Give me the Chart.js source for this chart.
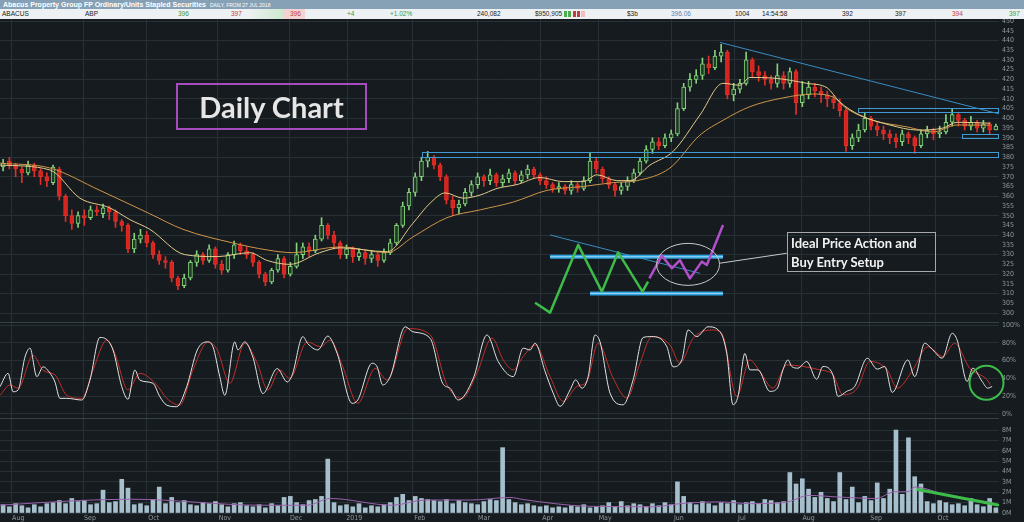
<!DOCTYPE html>
<html>
<head>
<meta charset="utf-8">
<title>ABP Daily Chart</title>
<script src="https://cdn.jsdelivr.net/npm/chart.js@4.4.1/dist/chart.umd.min.js"></script>
<style>
  html, body { margin: 0; padding: 0; }
  body { width: 1024px; height: 522px; background: #151b1e; position: relative; overflow: hidden; font-family: "Liberation Sans", Arial, sans-serif; }
  canvas { position: absolute; left: 0; }
  #priceChart { top: 19px; }
  #stochChart { top: 322px; }
  #volumeChart { top: 418px; }
  .sep { position: absolute; left: 0; width: 999px; height: 1px; background: #364047; }
  #title { position: absolute; left: 0; top: 0; width: 1024px; height: 9px; background: #86a1b5; color: #fff; font-size: 7px; font-weight: bold; line-height: 9px; white-space: nowrap; padding-left: 3px; box-sizing: border-box; }
  #title small { font-size: 5px; font-weight: normal; margin-left: 4px; }
  #quote { position: absolute; left: 0; top: 9px; width: 1024px; height: 10px; background: #eef1f3; font-size: 6.5px; line-height: 10px; color: #222; overflow: hidden; }
  #quote span { position: absolute; top: 0; white-space: nowrap; }
  #quote .up { color: #3a9a3a; }
  #quote .dn { color: #c43c3c; }
  #quote .bl { color: #5a83b8; }
  #dailyBox { position: absolute; left: 176px; top: 83px; width: 191px; height: 47px; box-sizing: border-box; border: 2px solid #a64cbf; color: #e6e6e6; font: bold 29px Lato, "Open Sans", sans-serif; text-align: center; line-height: 43px; }
  #setupBox { position: absolute; left: 787px; top: 232px; width: 149px; height: 40px; box-sizing: border-box; border: 1px solid #a8a8a8; color: #f2f2f2; font: bold 13px Lato, "Open Sans", sans-serif; line-height: 19px; padding: 1px 0 0 3px; white-space: nowrap; }
</style>
</head>
<body>

<canvas id="priceChart" width="1024" height="303"></canvas>
<canvas id="stochChart" width="1024" height="96"></canvas>
<canvas id="volumeChart" width="1024" height="104"></canvas>
<div class="sep" style="top:322px"></div>
<div class="sep" style="top:418px"></div>

<div id="title">Abacus Property Group FP Ordinary/Units Stapled Securities<small>DAILY, FROM 27 JUL 2018</small></div>
<div id="quote">
  <span style="left:2px">ABACUS</span>
  <span style="left:85px">ABP</span>
  <span class="up" style="left:178px">396</span>
  <span class="dn" style="left:231px">397</span>
  <span style="left:247px;width:36px;height:10px;background:linear-gradient(90deg,#eef1f3,#cfe9cf)"></span>
  <span style="left:283px;width:22px;height:10px;background:#f3d3d3"></span>
  <span class="dn" style="left:290px">396</span>
  <span class="up" style="left:347px">+4</span>
  <span class="up" style="left:390px">+1.02%</span>
  <span style="left:477px">240,082</span>
  <span style="left:535px">$950,905</span>
  <span style="left:564px;top:2px;width:3px;height:6px;background:#4cae4c"></span>
  <span style="left:568px;top:2px;width:3px;height:6px;background:#4cae4c"></span>
  <span style="left:573px;top:2px;width:3px;height:6px;background:#c43c3c"></span>
  <span style="left:577px;top:2px;width:3px;height:6px;background:#c43c3c"></span>
  <span style="left:581px;top:2px;width:4px;height:6px;background:#f0c0c0"></span>
  <span style="left:627px">$3b</span>
  <span class="bl" style="left:671px">396.06</span>
  <span style="left:735px">1004</span>
  <span style="left:762px">14:54:58</span>
  <span style="left:842px">392</span>
  <span style="left:895px">397</span>
  <span class="dn" style="left:952px">394</span>
  <span class="up" style="left:1009px">397</span>
</div>

<div id="dailyBox">Daily Chart</div>
<div id="setupBox">Ideal Price Action and<br>Buy Entry Setup</div>

<script>
// x axis unit = one bar (two trading days), bar 0 = late Jul 2018
const monthTicks = [1.3, 12.8, 23.0, 34.4, 45.8, 55.1, 65.6, 75.9, 86.1, 95.3, 107.1, 117.2, 127.9, 138.7, 149.4];
const monthNames = ["Aug", "Sep", "Oct", "Nov", "Dec", "2019", "Feb", "Mar", "Apr", "May", "Jun", "Jul", "Aug", "Sep", "Oct"];

const priceTicks = [300, 305, 310, 315, 320, 325, 330, 335, 340, 345, 350, 355, 360, 365, 370, 375,
  380, 385, 390, 395, 400, 405, 410, 415, 420, 425, 430, 435, 440, 445, 450];
const stochTicks = [0, 20, 40, 60, 80, 100];
const volumeTicks = [0, 1, 2, 3, 4, 5, 6, 7, 8];

const opens = [
  375, 378, 376, 374, 372, 376, 373, 370, 367, 374,
  360, 350, 346, 350, 349, 353, 351, 354, 352, 347,
  345, 333, 338, 340, 336, 330, 327, 326, 318, 314,
  318, 326, 330, 327, 333, 325, 322, 330, 335, 332,
  330, 326, 320, 316, 322, 328, 320, 324, 330, 334,
  332, 338, 345, 340, 336, 330, 333, 329, 331, 328,
  330, 327, 331, 336, 345, 355, 362, 370, 378, 380,
  376, 370, 358, 354, 356, 362, 366, 370, 368, 371,
  367, 369, 372, 368, 371, 374, 371, 368, 366, 364,
  365, 363, 366, 364, 368, 378, 374, 369, 366, 363,
  365, 368, 372, 378, 384, 388, 386, 390, 392, 405,
  416, 420, 422, 428, 426, 432, 434, 412, 415, 418,
  430, 424, 422, 420, 418, 422, 418, 424, 408, 412,
  416, 414, 412, 410, 408, 404, 386, 390, 394, 400,
  396, 394, 392, 390, 388, 392, 390, 386, 392, 394,
  392, 393, 398, 402, 399, 396, 398, 395, 397, 394
];
const closes = [
  377, 376, 374, 372, 376, 373, 370, 368, 375, 360,
  350, 346, 350, 349, 353, 352, 354, 352, 347, 345,
  333, 338, 340, 336, 330, 327, 326, 318, 314, 318,
  326, 330, 327, 333, 325, 322, 330, 335, 332, 330,
  326, 320, 316, 322, 328, 320, 324, 330, 334, 332,
  338, 345, 340, 336, 330, 333, 329, 331, 328, 330,
  327, 331, 336, 345, 355, 362, 370, 378, 380, 376,
  370, 358, 354, 356, 362, 366, 370, 368, 371, 367,
  369, 372, 368, 371, 374, 371, 368, 366, 364, 365,
  363, 366, 364, 368, 378, 374, 369, 366, 363, 365,
  368, 372, 378, 384, 388, 386, 390, 392, 405, 416,
  420, 422, 428, 426, 432, 434, 412, 415, 418, 430,
  424, 422, 420, 418, 422, 418, 424, 408, 412, 416,
  414, 412, 410, 408, 404, 386, 390, 394, 400, 396,
  394, 392, 390, 388, 392, 390, 386, 392, 394, 392,
  393, 398, 402, 399, 396, 398, 395, 397, 394, 396
];
const highs = [
  379, 380, 377, 375, 378, 377, 374, 372, 376, 375,
  361, 353, 352, 353, 355, 355, 356, 355, 353, 348,
  346, 341, 343, 342, 337, 332, 329, 327, 319, 320,
  327, 332, 331, 335, 334, 327, 331, 337, 336, 334,
  331, 327, 321, 323, 330, 329, 326, 336, 336, 336,
  340, 349, 346, 342, 337, 335, 334, 333, 332, 332,
  331, 333, 338, 346, 357, 364, 372, 380, 383, 381,
  377, 371, 360, 358, 364, 368, 372, 371, 374, 372,
  371, 374, 373, 373, 376, 375, 372, 370, 367, 367,
  366, 368, 367, 370, 382, 380, 375, 370, 367, 367,
  370, 374, 380, 386, 390, 390, 392, 394, 408, 418,
  423, 425, 431, 432, 435, 438, 435, 418, 420, 434,
  431, 427, 424, 422, 428, 424, 426, 425, 419, 419,
  418, 416, 414, 412, 410, 405, 392, 397, 403, 401,
  398, 396, 394, 392, 394, 393, 391, 394, 396, 395,
  396, 402, 405, 403, 400, 401, 399, 399, 398, 397
];
const lows = [
  373, 374, 370, 367, 371, 370, 366, 365, 366, 358,
  347, 343, 344, 345, 348, 350, 349, 348, 344, 342,
  331, 331, 336, 334, 328, 325, 323, 316, 312, 313,
  317, 324, 325, 326, 323, 320, 321, 328, 330, 328,
  324, 318, 314, 315, 321, 318, 319, 323, 328, 329,
  331, 337, 338, 333, 328, 328, 326, 327, 325, 326,
  324, 326, 330, 335, 344, 353, 360, 368, 375, 374,
  368, 356, 350, 351, 355, 360, 364, 365, 366, 365,
  365, 367, 366, 367, 369, 369, 366, 364, 362, 362,
  361, 361, 362, 363, 367, 372, 367, 364, 360, 361,
  363, 367, 371, 377, 382, 384, 385, 388, 391, 404,
  414, 418, 420, 423, 425, 429, 410, 409, 413, 417,
  421, 419, 417, 415, 416, 415, 416, 402, 406, 410,
  411, 408, 406, 405, 401, 383, 384, 388, 393, 394,
  391, 389, 387, 385, 386, 387, 382, 385, 390, 389,
  390, 392, 396, 396, 394, 394, 393, 393, 392, 394
];

// moving averages
const fastMaX = [-0.5, 7.5, 12.3, 17.1, 20.3, 23.5, 29.1, 34.3, 39.5, 42.3, 45.9, 50.7, 54.0, 61.5, 65.6, 68.4,
  70.8, 73.7, 76.4, 79.1, 82.3, 86.0, 89.7, 92.9, 95.1, 98.3, 100.4, 103.6, 107.3, 111.6, 115.3, 118.0,
  119.6, 123.3, 128.7, 132.0, 134.0, 137.2, 142.0, 146.4, 150.5, 152.8, 158.1];
const fastMa = [376, 373.5, 359, 354, 348, 343, 330, 329, 331, 327, 325, 331, 333.5, 331.5, 346, 356.5,
  361.7, 359, 360.6, 364, 366, 369.6, 367.5, 367.5, 371, 368, 368, 376, 383, 401.7, 418, 417,
  421, 420.7, 418, 415.6, 408.4, 401.7, 396.6, 394, 395, 398, 397.5];
const slowMaX = [-0.5, 7.5, 15.5, 23.5, 28.8, 36.8, 42.3, 46.4, 54.0, 61.5, 65.6, 71.1, 76.4, 81.7, 87.1, 92.9,
  97.7, 101.5, 106.8, 111.6, 115.3, 119.6, 124.9, 129.7, 132.9, 135.1, 139.3, 144.8, 148.9, 152.8, 158.1];
const slowMa = [377, 374.5, 363, 351, 343, 336, 332.4, 331, 334, 331, 339, 349, 353, 357, 363, 365,
  367, 368, 374.5, 391.4, 399, 406, 410.5, 412.5, 411, 405, 399, 395.6, 393, 396.6, 396.5];

// slow stochastic %K (white) and %D (red)
const stochKX = [-0.5, 0.8, 1.6, 2.4, 3.5, 4.3, 5.4, 6.4, 7.5, 8.3, 9.1, 10.2, 12.6, 13.9, 15.5, 16.3,
  17.6, 19.0, 20.0, 21.1, 21.9, 24.0, 25.1, 26.2, 27.8, 29.4, 31.1, 32.7, 33.6, 34.7, 35.5, 37.1,
  37.6, 38.7, 40.0, 41.6, 43.9, 45.5, 46.3, 48.0, 48.8, 50.4, 52.0, 53.5, 55.9, 56.8, 59.1, 59.9,
  60.8, 62.0, 64.4, 65.6, 68.4, 70.4, 71.6, 72.9, 75.3, 77.5, 79.3, 81.7, 83.3, 84.4, 85.2, 86.8,
  88.1, 89.2, 90.8, 91.7, 92.7, 93.7, 94.8, 95.6, 97.2, 99.3, 100.9, 102.5, 103.9, 106.3, 107.3, 108.7,
  109.7, 111.1, 112.9, 114.8, 115.9, 116.9, 117.7, 118.8, 119.6, 120.9, 122.8, 124.0, 124.9, 125.7, 126.3, 127.3,
  128.7, 130.3, 131.3, 132.9, 133.7, 135.1, 136.4, 138.4, 140.0, 141.2, 142.4, 144.9, 146.0, 147.6, 148.9, 150.4,
  152.0, 152.8, 154.4, 155.3, 156.8, 157.7, 158.4];
const stochK = [30.7, 45.7, 25, 27, 64, 74, 42, 53, 46, 36, 17.6, 17.6, 15.7, 38, 86, 85,
  72, 30.7, 16.5, 49.4, 38, 34.5, 19.5, 10, 8.2, 30.7, 72, 81, 75.7, 42, 21, 81,
  72, 81, 64, 23, 51, 36, 44, 87, 79, 72, 87.6, 68, 12, 15.7, 57, 53,
  32.6, 42, 98, 92.5, 85, 34.5, 28.8, 15.7, 40, 88.8, 58.8, 42, 74, 72, 79.5, 47.8,
  23.5, 8.6, 27, 38.4, 29, 42, 88.8, 81, 23.5, 10.4, 38.4, 86, 87, 75.7, 53, 60.8,
  94.4, 87, 98, 92.5, 68, 10.4, 19.8, 68, 49.6, 49.6, 25.4, 29, 49.6, 60.8, 53.4, 51.5,
  59, 39, 53.4, 44, 19.8, 25.4, 31, 62.7, 50.4, 53.4, 24.3, 60.8, 42, 79.5, 72, 62.7,
  90.7, 83, 36.6, 51.5, 36.6, 29, 31];
const stochDX = [-0.5, 1.1, 2.4, 4.8, 6.4, 8.3, 10.2, 12.6, 14.4, 16.6, 17.9, 20.0, 21.9, 24.6, 26.2, 28.3,
  30.4, 32.8, 34.3, 36.3, 38.7, 40.7, 42.4, 44.3, 45.9, 48.7, 50.8, 52.4, 54.4, 56.8, 59.6, 61.5,
  64.8, 68.4, 71.1, 73.5, 75.9, 78.3, 80.1, 81.7, 83.3, 85.2, 87.6, 89.7, 91.9, 93.5, 95.3, 97.7,
  99.9, 102.0, 103.9, 106.8, 108.4, 110.5, 113.5, 115.1, 117.5, 119.6, 121.2, 123.3, 125.5, 128.1, 130.8, 132.9,
  134.5, 136.8, 138.8, 141.6, 143.2, 145.7, 148.1, 150.5, 152.4, 154.8, 157.6, 158.1];
const stochD = [21, 32.6, 29, 66, 49, 44, 21, 17.6, 49.4, 83, 68, 27, 45.7, 32.6, 17.6, 10,
  49.4, 81, 72, 34.5, 79.4, 57, 27, 49.4, 40, 81, 75.7, 83, 53, 12, 51.3, 38,
  96, 89, 32.6, 17.6, 46, 85.4, 60.7, 49.6, 64.6, 77.6, 42, 14.2, 31, 36.6, 79.5, 40.3,
  17.9, 57, 87, 77.6, 57, 85, 94.4, 90.7, 19.8, 60.8, 47.8, 29, 55.2, 53.4, 49.6, 44,
  21.6, 29, 59, 49.6, 29, 49.6, 75.7, 64.6, 79.5, 51.5, 38.4, 32.8];

// volume in millions of units, one bar per two days
const volumes = [
  0.8, 0.6, 0.9, 0.7, 0.5, 0.8, 0.6, 0.9, 1.0, 1.2,
  0.9, 1.4, 1.1, 1.2, 0.8, 0.9, 2.2, 1.0, 1.1, 3.25,
  2.4, 0.8, 0.9, 0.7, 1.3, 2.5, 0.9, 1.5, 1.0, 1.2,
  0.8, 0.7, 1.0, 0.9, 1.1, 0.8, 0.6, 0.9, 1.0, 0.7,
  0.6, 0.8, 0.5, 0.9, 0.7, 1.5, 1.6, 1.0, 0.8, 1.2,
  1.3, 1.6, 5.2, 1.0, 0.7, 0.8, 0.6, 0.9, 0.5, 0.7,
  0.6, 0.8, 1.0, 1.5, 1.8, 1.2, 1.6, 1.4, 1.3, 1.2,
  1.1, 1.3, 0.9, 1.2, 1.0, 0.9, 0.8, 1.1, 1.3, 1.2,
  6.3, 1.3, 1.0, 0.8, 0.9, 0.7, 0.6, 0.7, 0.5, 0.6,
  0.5, 0.7, 0.6, 0.8, 0.5, 0.6, 0.7, 1.0, 0.6, 1.1,
  0.7, 0.9, 0.8, 0.6, 0.9, 0.7, 1.0, 0.8, 3.0, 1.6,
  1.0, 0.8, 1.1, 0.9, 0.7, 1.0, 0.9, 1.2, 0.8, 1.0,
  1.1, 0.9, 1.3, 1.2, 1.0, 1.1, 3.9, 2.8, 3.3, 2.3,
  1.5, 2.0, 1.4, 1.1, 3.9, 1.3, 2.5, 1.0, 1.6, 1.2,
  2.9, 1.4, 2.3, 8.0, 1.8, 7.25, 3.5, 2.8, 1.1, 0.9,
  1.2, 1.0, 0.8, 0.9, 0.7, 1.4, 0.8, 0.6, 1.4, 0.5
];
const volMaX = [-0.5, 12.0, 20.5, 41.3, 48.7, 52.4, 62.3, 67.6, 74.9, 81.2, 83.3, 93.7, 104.2, 108.4,
  114.7, 119.9, 125.1, 129.2, 133.5, 139.8, 142.8, 144.9, 146.0, 151.3, 158.5];
const volMa = [0.75, 1.2, 1.33, 0.75, 0.75, 1.4, 0.75, 1.25, 1.25, 1.5, 1.3, 0.65, 0.6, 0.9,
  1.07, 0.9, 1.0, 1.7, 1.55, 1.4, 2.05, 2.05, 2.5, 1.7, 1.0];

// hand-drawn annotations, in chart units [bar, value]
const levelBands = [[67.1, 159.5, 380.3, 382.6], [136.9, 159.5, 403.2, 405.2], [153.6, 159.5, 389.8, 392.2]];
const trendLine = [[114.8, 439], [159.5, 402.3]];
const sketchThin = [[87.6, 340.1], [111.6, 320.4]];
const sketchBars = [[87.6, 115.3, 328.9], [94.0, 115.3, 310.1]];
const sketchGreen = [[85.2, 305.3], [87.6, 300.2], [92.1, 335.0], [95.9, 311.0], [98.5, 331.2], [102.4, 311.0], [103.3, 316.1]];
const sketchPurple = [[103.5, 317.8], [105.5, 329.5], [107.1, 323.0], [108.4, 327.2], [110.0, 317.8], [111.9, 326.4], [112.7, 324.7], [115.3, 345.2]];
const sketchEllipse = [109.7, 325.0];
const sketchLink = [[114.8, 325.6], [125.5, 330.7]];
const stochMark = [157.5, 35.2];
const volumeTrend = [[146.5, 2.27], [159.3, 0.78]];

const gridColor = "#273034";
const tickColor = "#8e989d";
const tickFont = { family: "'Liberation Sans Narrow', 'DejaVu Sans Condensed', sans-serif", size: 7 };

const pts = (xs, ys) => xs.map((x, i) => ({ x: x, y: ys[i] }));
const isUp = i => closes[i] >= opens[i];

function xAxis(showLabels) {
    return {
        type: "linear",
        min: -0.5,
        max: 159.5,
        offset: false,
        grid: { color: gridColor, drawTicks: false, offset: false },
        border: { display: false },
        afterBuildTicks: s => { s.ticks = monthTicks.map(v => ({ value: v })); },
        ticks: {
            display: showLabels,
            autoSkip: false,
            maxRotation: 0,
            padding: 1,
            labelOffset: 7,
            color: tickColor,
            font: tickFont,
            callback: (v, i) => monthNames[i]
        },
        afterFit: s => { s.height = showLabels ? 9 : 0; s.paddingLeft = 0; s.paddingRight = 0; }
    };
}

function yAxis(min, max, ticks, fmt, every) {
    return {
        position: "right",
        min: min,
        max: max,
        afterBuildTicks: s => { s.ticks = ticks.map(v => ({ value: v })); },
        grid: {
            drawTicks: false,
            color: c => (c.tick && c.tick.value % every === 0) ? gridColor : "rgba(0,0,0,0)"
        },
        border: { display: false },
        ticks: { autoSkip: false, padding: 3, color: tickColor, font: tickFont, callback: fmt },
        afterFit: s => { s.width = 25; s.paddingTop = 0; s.paddingBottom = 0; }
    };
}

function baseOptions(showLabels, y) {
    return {
        responsive: false,
        animation: false,
        layout: { padding: 0, autoPadding: false },
        plugins: { legend: { display: false }, tooltip: { enabled: false } },
        scales: { x: xAxis(showLabels), y: y }
    };
}

function drawPath(ctx, x, y, list) {
    ctx.beginPath();
    list.forEach((p, i) => {
        const px = x.getPixelForValue(p[0]);
        const py = y.getPixelForValue(p[1]);
        if (i === 0) ctx.moveTo(px, py); else ctx.lineTo(px, py);
    });
    ctx.stroke();
}

const priceOverlay = {
    id: "priceOverlay",
    afterDatasetsDraw(chart) {
        const { ctx, scales: { x, y } } = chart;
        ctx.save();
        ctx.lineWidth = 1;
        ctx.strokeStyle = "#3d9ad2";
        levelBands.forEach(b => {
            const x0 = Math.round(x.getPixelForValue(b[0])) + 0.5;
            const x1 = Math.round(x.getPixelForValue(b[1])) - 0.5;
            const y0 = Math.round(y.getPixelForValue(b[3])) + 0.5;
            const y1 = Math.round(y.getPixelForValue(b[2])) + 0.5;
            ctx.strokeRect(x0, y0, x1 - x0, y1 - y0);
        });
        ctx.strokeStyle = "#3a8cc4";
        drawPath(ctx, x, y, trendLine);
        drawPath(ctx, x, y, sketchThin);

        // sketch of the ideal setup
        sketchBars.forEach(b => {
            ctx.lineWidth = 4;
            ctx.strokeStyle = "#2aa2df";
            drawPath(ctx, x, y, [[b[0], b[2]], [b[1], b[2]]]);
            ctx.lineWidth = 1;
            ctx.strokeStyle = "#a9dcf5";
            drawPath(ctx, x, y, [[b[0], b[2]], [b[1], b[2]]]);
        });
        ctx.lineJoin = "round";
        ctx.lineWidth = 2.5;
        ctx.strokeStyle = "#3dbc4a";
        drawPath(ctx, x, y, sketchGreen);
        ctx.strokeStyle = "#b24fca";
        drawPath(ctx, x, y, sketchPurple);

        ctx.lineWidth = 1;
        ctx.strokeStyle = "#c8c8c8";
        ctx.beginPath();
        ctx.ellipse(x.getPixelForValue(sketchEllipse[0]), y.getPixelForValue(sketchEllipse[1]), 31.5, 21, 0, 0, Math.PI * 2);
        ctx.stroke();
        drawPath(ctx, x, y, sketchLink);
        ctx.restore();
    }
};

const stochOverlay = {
    id: "stochOverlay",
    afterDatasetsDraw(chart) {
        const { ctx, scales: { x, y } } = chart;
        ctx.save();
        ctx.lineWidth = 2;
        ctx.strokeStyle = "#3dbc4a";
        ctx.beginPath();
        ctx.arc(x.getPixelForValue(stochMark[0]), y.getPixelForValue(stochMark[1]), 17, 0, Math.PI * 2);
        ctx.stroke();
        ctx.restore();
    }
};

const volumeOverlay = {
    id: "volumeOverlay",
    afterDatasetsDraw(chart) {
        const { ctx, scales: { x, y } } = chart;
        ctx.save();
        ctx.lineWidth = 3;
        ctx.lineCap = "round";
        ctx.strokeStyle = "#3dbc4a";
        drawPath(ctx, x, y, volumeTrend);
        ctx.restore();
    }
};

// price panel: candles + two moving averages
new Chart(document.getElementById("priceChart"), {
    type: "line",
    data: {
        datasets: [
            {
                type: "line",
                data: pts(fastMaX, fastMa),
                borderColor: "#e4cd8c",
                borderWidth: 1,
                pointRadius: 0,
                cubicInterpolationMode: "monotone",
                order: 0
            },
            {
                type: "line",
                data: pts(slowMaX, slowMa),
                borderColor: "#cf9549",
                borderWidth: 1,
                pointRadius: 0,
                cubicInterpolationMode: "monotone",
                order: 1
            },
            {
                type: "bar",
                data: opens.map((o, i) => ({ x: i, y: [o, closes[i]] })),
                barThickness: 4,
                grouped: false,
                borderSkipped: false,
                borderWidth: 1,
                backgroundColor: c => isUp(c.dataIndex) ? "#1e3a22" : "#d8241d",
                borderColor: c => isUp(c.dataIndex) ? "#84d27b" : "#e0302a",
                order: 2
            },
            {
                type: "bar",
                data: lows.map((l, i) => ({ x: i, y: [l, highs[i]] })),
                barThickness: 1,
                grouped: false,
                backgroundColor: c => isUp(c.dataIndex) ? "#84d27b" : "#e0302a",
                order: 3
            }
        ]
    },
    options: baseOptions(false, yAxis(295.4, 451.03, priceTicks, v => v, 10)),
    plugins: [priceOverlay]
});

// stochastic panel
new Chart(document.getElementById("stochChart"), {
    type: "line",
    data: {
        datasets: [
            {
                data: pts(stochKX, stochK),
                borderColor: "#e4e4e4",
                borderWidth: 1,
                pointRadius: 0,
                cubicInterpolationMode: "monotone",
                order: 0
            },
            {
                data: pts(stochDX, stochD),
                borderColor: "#c4302c",
                borderWidth: 1,
                pointRadius: 0,
                cubicInterpolationMode: "monotone",
                order: 1
            }
        ]
    },
    options: baseOptions(false, yAxis(-4.5, 103.4, stochTicks, v => v + "%", 20)),
    plugins: [stochOverlay]
});

// volume panel with month axis
new Chart(document.getElementById("volumeChart"), {
    type: "line",
    data: {
        datasets: [
            {
                type: "line",
                data: pts(volMaX, volMa),
                borderColor: "#9a60ae",
                borderWidth: 1,
                pointRadius: 0,
                cubicInterpolationMode: "monotone",
                order: 0
            },
            {
                type: "bar",
                data: volumes.map((v, i) => ({ x: i, y: v })),
                barThickness: 4,
                grouped: false,
                backgroundColor: "#a6bfcc",
                order: 1
            }
        ]
    },
    options: baseOptions(true, yAxis(0, 9.16, volumeTicks, v => v + "M", 1)),
    plugins: [volumeOverlay]
});
</script>
</body>
</html>
